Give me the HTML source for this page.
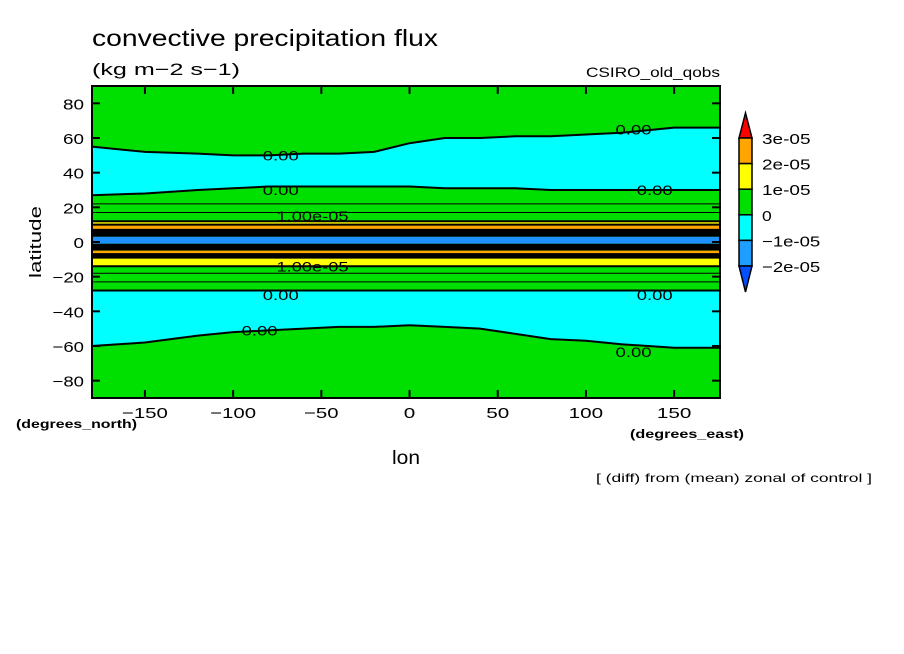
<!DOCTYPE html>
<html><head><meta charset="utf-8"><style>
html,body{margin:0;padding:0;background:#fff;}
svg{display:block;font-family:"Liberation Sans",sans-serif;}
</style></head><body>
<svg id="chart" width="904" height="654" viewBox="0 0 904 654" xmlns="http://www.w3.org/2000/svg">
<text x="92" y="46" font-size="23" textLength="346" lengthAdjust="spacingAndGlyphs">convective precipitation flux</text>
<text x="92" y="75" font-size="17" textLength="148" lengthAdjust="spacingAndGlyphs">(kg m−2 s−1)</text>
<text x="586" y="77" font-size="14" textLength="134" lengthAdjust="spacingAndGlyphs">CSIRO_old_qobs</text>
<g id="plot"></g>
<g id="axes"></g>
<g id="cbar"></g>
<text transform="translate(41,242) rotate(-90)" font-size="17" text-anchor="middle" textLength="72" lengthAdjust="spacingAndGlyphs">latitude</text>
<text x="392" y="464" font-size="19" textLength="28" lengthAdjust="spacingAndGlyphs">lon</text>
<text x="16" y="428" font-size="12" font-weight="bold" textLength="121" lengthAdjust="spacingAndGlyphs">(degrees_north)</text>
<text x="630" y="438" font-size="12" font-weight="bold" textLength="114" lengthAdjust="spacingAndGlyphs">(degrees_east)</text>
<text x="596" y="482" font-size="12" textLength="276" lengthAdjust="spacingAndGlyphs">[ (diff) from (mean) zonal of control ]</text>
</svg>
<script>
const lonSamples=[-180,-150,-120,-100,-80,-60,-40,-20,0,20,40,60,80,100,120,150,176];
const northCyanTop=[55,52,51,50,50,51,51,52,57,60,60,61,61,62,63,66,66];
const northCyanBot=[27,28,30,31,32,32,32,32,32,31,31,31,30,30,30,30,30];
const southCyanTop=[-28,-28,-28,-28,-28,-28,-28,-28,-28,-28,-28,-28,-28,-28,-28,-28,-28];
const southCyanBot=[-60,-58,-54,-52,-51,-50,-49,-49,-48,-49,-50,-53,-56,-57,-59,-61,-61];
const bandTop=[12,10,7,3,-1,-5,-7,-9];
const bandBot=[10,7,3,-1,-5,-7,-9,-14];
const bandColor=["#ffff00","#ffa500","#000000","#1e90ff","#000000","#ffa500","#000000","#ffff00"];
const contourLats=[22,17,-18,-23];
const cbarLabels=["3e-05","2e-05","1e-05","0","−1e-05","−2e-05"];
const cbarColors=["#ffa500","#ffff00","#00e000","#00ffff","#1e9fff"];
const yTicks=[80,60,40,20,0,-20,-40,-60,-80];
const xTicks=[-150,-100,-50,0,50,100,150];
const zeroLabels=[[-73,50],[-73,30],[139,30],[127,65],[-73,-30.6],[139,-30.6],[-85,-51],[127,-63.5]];

const NS="http://www.w3.org/2000/svg";
const X0=92,X1=720,Y0=86,Y1=398;
const xs=l=>X0+(l+180)/(356)*(X1-X0);
const ys=a=>Y0+(90-a)/180*(Y1-Y0);
function mk(t,a,p){const e=document.createElementNS(NS,t);for(const k in a)e.setAttribute(k,a[k]);p.appendChild(e);return e;}
const plot=document.getElementById('plot'),axes=document.getElementById('axes'),cbar=document.getElementById('cbar');

let r=mk('rect',{x:X0,y:Y0,width:X1-X0,height:Y1-Y0,fill:'#00e000'},plot);


function region(top,bot,name){
  let d='M'+lonSamples.map((l,i)=>xs(l)+','+ys(top[i])).join(' L');
  for(let i=lonSamples.length-1;i>=0;i--)d+=' L'+xs(lonSamples[i])+','+ys(bot[i]);
  d+='Z';
  const p=mk('path',{d:d,fill:'#00ffff',stroke:'#000','stroke-width':2},plot);
  
  
}
region(northCyanTop,northCyanBot,'north-negative-region');
region(southCyanTop,southCyanBot,'south-negative-region');
contourLats.forEach(a=>{
  const l=mk('line',{x1:X0,x2:X1,y1:ys(a),y2:ys(a),stroke:'#000','stroke-width':1},plot);
  
  
});
bandTop.forEach((t,i)=>{
  const b=mk('rect',{x:X0,y:ys(t),width:X1-X0,height:ys(bandBot[i])-ys(t),fill:bandColor[i]},plot);
  
  
});
[12,10,7,-7,-9,-14].forEach(a=>{
  const l=mk('line',{x1:X0,x2:X1,y1:ys(a),y2:ys(a),stroke:'#000','stroke-width':2},plot);
  
  
});
zeroLabels.forEach(z=>{
  const t=mk('text',{x:xs(z[0]),y:ys(z[1])+5,'font-size':14,'text-anchor':'middle',textLength:36,lengthAdjust:'spacingAndGlyphs'},plot);
  t.textContent='0.00';
  
  
});
[['1.00e-05',15],['1.00e-05',-14]].forEach(z=>{
  const t=mk('text',{x:xs(-55),y:ys(z[1])+5,'font-size':14,'text-anchor':'middle',textLength:72,lengthAdjust:'spacingAndGlyphs'},plot);
  t.textContent=z[0];
  
  
});
const fr=mk('rect',{x:X0,y:Y0,width:X1-X0,height:Y1-Y0,fill:'none',stroke:'#000','stroke-width':2},axes);


yTicks.forEach(v=>{
  mk('line',{x1:X0,x2:X0+8,y1:ys(v),y2:ys(v),stroke:'#000','stroke-width':2},axes);
  mk('line',{x1:X1,x2:X1-8,y1:ys(v),y2:ys(v),stroke:'#000','stroke-width':2},axes);
  const s=v<0?'−'+(-v):String(v);
  const t=mk('text',{x:84-s.length*10.5,y:ys(v)+6,'font-size':15,textLength:s.length*10.5,lengthAdjust:'spacingAndGlyphs'},axes);
  t.textContent=s;
  
  
});
xTicks.forEach(v=>{
  mk('line',{x1:xs(v),x2:xs(v),y1:Y1,y2:Y1-8,stroke:'#000','stroke-width':2},axes);
  mk('line',{x1:xs(v),x2:xs(v),y1:Y0,y2:Y0+8,stroke:'#000','stroke-width':2},axes);
  const s=v<0?'−'+(-v):String(v);
  const w=s.length*11.5;
  const t=mk('text',{x:xs(v)-w/2,y:418,'font-size':15,textLength:w,lengthAdjust:'spacingAndGlyphs'},axes);
  t.textContent=s;
  
  
});
// colorbar
const CX=739,CW=13,CT=138,CH=25.6;
const up=mk('polygon',{points:`${CX},${CT} ${CX+CW},${CT} ${CX+CW/2},${CT-25}`,fill:'#ff0000',stroke:'#000','stroke-width':1.5},cbar);


cbarColors.forEach((c,i)=>{
  const b=mk('rect',{x:CX,y:CT+i*CH,width:CW,height:CH,fill:c,stroke:'#000','stroke-width':1.5},cbar);
  
  
});
const bot=CT+cbarColors.length*CH;
const dn=mk('polygon',{points:`${CX},${bot} ${CX+CW},${bot} ${CX+CW/2},${bot+26}`,fill:'#0050ff',stroke:'#000','stroke-width':1.5},cbar);


cbarLabels.forEach((s,i)=>{
  const t=mk('text',{x:762,y:CT+i*CH+6,'font-size':15,textLength:s.length*9.7,lengthAdjust:'spacingAndGlyphs'},cbar);
  t.textContent=s;
  
  
});
</script>
</body></html>
